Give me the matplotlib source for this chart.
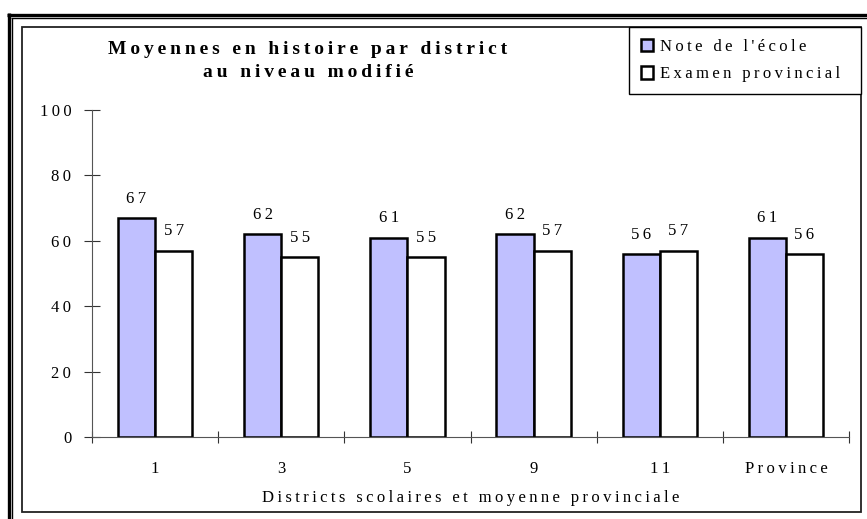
import numpy as np
import matplotlib
matplotlib.use("Agg")
import matplotlib.pyplot as plt
from matplotlib.lines import Line2D
from matplotlib.patches import Rectangle

plt.rcParams['font.family'] = ['Liberation Serif', 'DejaVu Serif']

# data
districts = ["1", "3", "5", "9", "11", "Province"]
note_ecole = [67, 62, 61, 62, 56, 61]
examen_prov = [57, 55, 55, 57, 57, 56]
series_labels = ["Note de l'école", "Examen provincial"]
y_ticks = [0, 20, 40, 60, 80, 100]

W, H = 867, 519
SP = "\u2009"  # thin space, used to mimic the expanded letter spacing


def spaced(s):
    return SP.join(s)


def fx(px):
    return px / W


def fy(py):
    return 1 - py / H


fig = plt.figure(figsize=(W / 100, H / 100), dpi=100)

# double outer border (only top and left are visible in the reference)
for xs, ys, lw in (([fx(7), 1], [fy(14.5), fy(14.5)], 2.4),
                   ([fx(8.5), fx(8.5)], [fy(13), 0], 2.4),
                   ([fx(11), 1], [fy(18), fy(18)], 1.0),
                   ([fx(12), fx(12)], [fy(17.5), 0], 1.0)):
    fig.add_artist(Line2D(xs, ys, lw=lw, color="black", solid_capstyle="butt"))
# inner chart box
fig.add_artist(Rectangle((fx(22), fy(512)), fx(861 - 22), (512 - 27) / H,
                         fill=False, lw=1.3, edgecolor="#222222"))

ax = fig.add_axes([fx(92), fy(437), fx(849 - 92), (437 - 110) / H])

x = np.arange(len(districts)) + 0.5
w = 0.295
b1 = ax.bar(x - w / 2, note_ecole, w, color="#C0C0FF", edgecolor="black", lw=1.8,
            label=spaced(series_labels[0]))
b2 = ax.bar(x + w / 2, examen_prov, w, color="white", edgecolor="black", lw=1.8,
            label=spaced(series_labels[1]))

for bars, vals in ((b1, note_ecole), (b2, examen_prov)):
    for r, v in zip(bars, vals):
        ax.annotate(spaced(str(v)), (r.get_x() + r.get_width() / 2, v),
                    xytext=(0, 8), textcoords="offset points",
                    ha="center", va="bottom", fontsize=12)

ax.set_xlim(0, len(districts))
ax.set_ylim(0, 100)
ax.set_yticks(y_ticks)
ax.set_yticklabels([spaced(str(t)) for t in y_ticks], fontsize=12)
ax.tick_params(axis="y", direction="inout", length=12, width=0.8, pad=9, color="#333333")

ax.set_xticks(np.arange(len(districts) + 1))
ax.set_xticklabels([])
ax.set_xticks(x, minor=True)
ax.set_xticklabels([spaced(d) for d in districts], minor=True, fontsize=12)
ax.tick_params(axis="x", which="major", direction="inout", length=9, width=0.8, color="#333333")
ax.tick_params(axis="x", which="minor", length=0, pad=17)
ax.set_xlabel(spaced("Districts scolaires et moyenne provinciale"), fontsize=12, labelpad=10)

for s in ("top", "right"):
    ax.spines[s].set_visible(False)
for s in ("left", "bottom"):
    ax.spines[s].set_color("#555555")
    ax.spines[s].set_linewidth(0.8)
ax.set_zorder(2)

fig.text(fx(308), fy(61), spaced("Moyennes en histoire par district") + "\n" + spaced("au niveau modifié"),
         ha="center", va="center", fontsize=14, fontweight="bold", linespacing=1.45)

leg = ax.legend(loc="upper left", mode="expand",
                bbox_to_anchor=(fx(629), fy(97), fx(861 - 629), 70 / H), bbox_transform=fig.transFigure,
                fontsize=12, frameon=True, fancybox=False, edgecolor="black", framealpha=1,
                handlelength=0.75, handleheight=0.75, handletextpad=0.4, labelspacing=0.7,
                borderpad=0.7, borderaxespad=0)
leg.get_frame().set_linewidth(1.0)

fig.savefig("out.png", dpi=100)
